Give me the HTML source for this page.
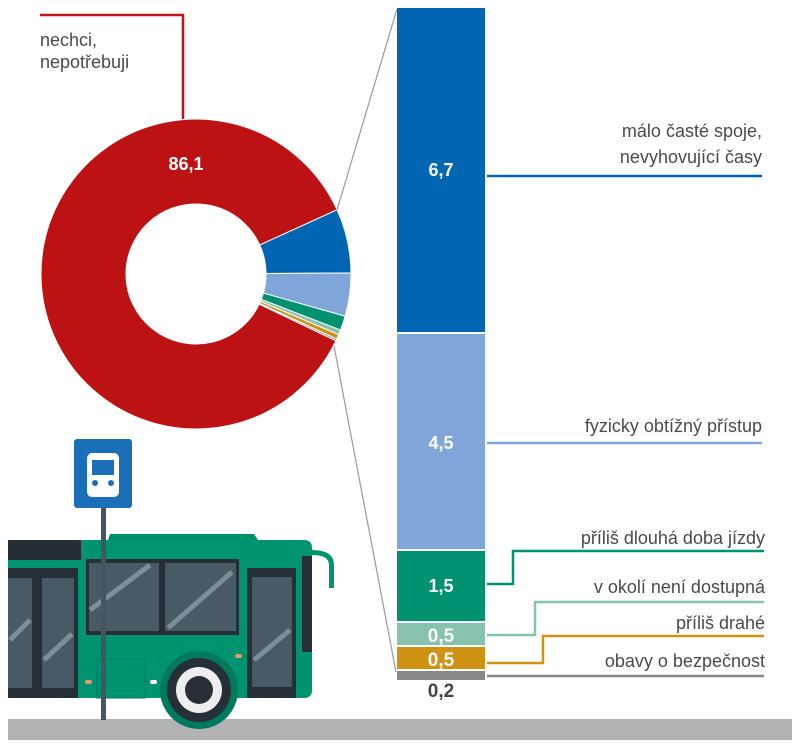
<!DOCTYPE html>
<html><head><meta charset="utf-8"><style>
html,body{margin:0;padding:0;background:#fff;}
svg{display:block;font-family:"Liberation Sans",sans-serif;}
.lab{font-size:18px;fill:#4a4a4a;}
.val{font-size:17px;font-weight:bold;fill:#fff;text-anchor:middle;}
</style></head><body>
<svg width="800" height="747" viewBox="0 0 800 747" xmlns="http://www.w3.org/2000/svg">
<g id="donut"></g>
<polyline points="40,15 183,15 183,119" fill="none" stroke="#c0161a" stroke-width="2.5"/>
<text class="lab" x="40" y="46">nechci,</text>
<text class="lab" x="40" y="68">nepotřebuji</text>
<text class="val" x="186" y="170" style="font-size:18px">86,1</text>
<line x1="337" y1="210" x2="397" y2="9" stroke="#999" stroke-width="1.2"/>
<line x1="334" y1="346" x2="396" y2="672" stroke="#999" stroke-width="1.2"/>
<rect x="397" y="8" width="88" height="324" fill="#0066b3"/>
<rect x="397" y="334" width="88" height="215" fill="#80a5d8"/>
<rect x="397" y="551" width="88" height="70" fill="#009270"/>
<rect x="397" y="623" width="88" height="22" fill="#86c2ae"/>
<rect x="397" y="647" width="88" height="22" fill="#cf9212"/>
<rect x="397" y="671" width="88" height="9" fill="#888"/>
<text class="val" x="441" y="176" style="font-size:18px">6,7</text>
<text class="val" x="441" y="449" style="font-size:18px">4,5</text>
<text class="val" x="441" y="592" style="font-size:18px">1,5</text>
<text class="val" x="441" y="642" style="font-size:19px">0,5</text>
<text class="val" x="441" y="666" style="font-size:19px">0,5</text>
<text class="val" x="441" y="697" style="fill:#444;font-size:19px">0,2</text>
<text class="lab" x="762" y="137" text-anchor="end">málo časté spoje,</text>
<text class="lab" x="762" y="163" text-anchor="end">nevyhovující časy</text>
<text class="lab" x="762" y="432" text-anchor="end">fyzicky obtížný přístup</text>
<text class="lab" x="765" y="544" text-anchor="end">příliš dlouhá doba jízdy</text>
<text class="lab" x="765" y="593" text-anchor="end">v okolí není dostupná</text>
<text class="lab" x="765" y="629" text-anchor="end">příliš drahé</text>
<text class="lab" x="765" y="667" text-anchor="end">obavy o bezpečnost</text>
<line x1="487" y1="176" x2="762" y2="176" stroke="#0066b3" stroke-width="2.5"/>
<line x1="487" y1="443" x2="762" y2="443" stroke="#80a5d8" stroke-width="2.5"/>
<polyline points="487,584 513,584 513,551 764,551" fill="none" stroke="#009270" stroke-width="2.5"/>
<polyline points="487,635 535,635 535,602 764,602" fill="none" stroke="#86c2ae" stroke-width="2.5"/>
<polyline points="487,663 543,663 543,636 764,636" fill="none" stroke="#cf9212" stroke-width="2.5"/>
<line x1="487" y1="676" x2="764" y2="676" stroke="#888" stroke-width="2.5"/>
<rect x="8" y="719" width="784" height="21" fill="#b3b3b3"/>
<path d="M108,540 L110,534 L254,534 L258,540 Z" fill="#00906c"/>
<path d="M8,540 L304,540 Q312,540 312,548 L312,690 Q312,698 304,698 L8,698 Z" fill="#00936f"/>
<rect x="8" y="540" width="73" height="20" fill="#262d33"/>
<rect x="8" y="568" width="70" height="130" fill="#262f36"/>
<rect x="8" y="578" width="24" height="110" fill="#485a65"/>
<rect x="42" y="578" width="32" height="110" fill="#485a65"/>
<rect x="86" y="559" width="153" height="76" fill="#262f36"/>
<rect x="89" y="563" width="70" height="68" fill="#485a65"/>
<rect x="165" y="563" width="71" height="68" fill="#485a65"/>
<rect x="247" y="568" width="49" height="130" fill="#262f36"/>
<rect x="252" y="577" width="40" height="110" fill="#485a65"/>
<g stroke="#8a9ba3" stroke-width="5" opacity="0.8">
<line x1="90" y1="610" x2="150" y2="565"/>
<line x1="168" y1="628" x2="232" y2="572"/>
<line x1="10" y1="640" x2="30" y2="620"/>
<line x1="44" y1="660" x2="72" y2="634"/>
<line x1="254" y1="660" x2="290" y2="630"/>
</g>
<rect x="97" y="659" width="48" height="39" fill="none" stroke="#007a5c" stroke-width="1"/>
<rect x="85" y="680" width="7" height="4" rx="2" fill="#f0956a"/>
<rect x="235" y="654" width="7" height="4" rx="2" fill="#f0956a"/>
<rect x="150" y="680" width="7" height="4" rx="2" fill="#fff"/>
<rect x="302" y="556" width="10" height="96" fill="#262f36"/>
<path d="M312,550 Q334,550 334,565 L334,588 L329,588 L329,565 Q329,555 312,555 Z" fill="#00936f"/>
<circle cx="199" cy="690" r="39" fill="#007a5c"/>
<circle cx="199" cy="690" r="32" fill="#262f36"/>
<circle cx="199" cy="690" r="23" fill="#eee"/>
<circle cx="199" cy="690" r="14" fill="#262f36"/>
<rect x="101" y="505" width="5" height="215" fill="#465560"/>
<rect x="74" y="439" width="58" height="69" rx="3" fill="#1a6fb8"/>
<rect x="87" y="453" width="32" height="44" rx="5" fill="#fff"/>
<rect x="92" y="460" width="22" height="15" fill="#1a6fb8"/>
<circle cx="95" cy="483" r="3" fill="#1a6fb8"/><circle cx="111" cy="483" r="3" fill="#1a6fb8"/>
</svg>
<script>
(function(){
var cx=196,cy=274,R=155,r=70,g=document.getElementById('donut');
var d=[[6.7,'#0066b3'],[4.5,'#80a5d8'],[1.5,'#009270'],[0.5,'#86c2ae'],[0.5,'#cf9212'],[0.2,'#888'],[86.1,'#bd1214']];
var a=-24.5*Math.PI/180;
function p(ang,rad){return (cx+rad*Math.cos(ang)).toFixed(2)+','+(cy+rad*Math.sin(ang)).toFixed(2);}
d.forEach(function(s){
 var b=a+s[0]*3.6*Math.PI/180, large=(b-a)>Math.PI?1:0;
 var path=document.createElementNS('http://www.w3.org/2000/svg','path');
 path.setAttribute('d','M'+p(a,R)+' A'+R+','+R+' 0 '+large+' 1 '+p(b,R)+' L'+p(b,r)+' A'+r+','+r+' 0 '+large+' 0 '+p(a,r)+' Z');
 path.setAttribute('fill',s[1]);path.setAttribute('stroke','#fff');path.setAttribute('stroke-width','1');
 g.appendChild(path);a=b;
});
})();
</script>
</body></html>
